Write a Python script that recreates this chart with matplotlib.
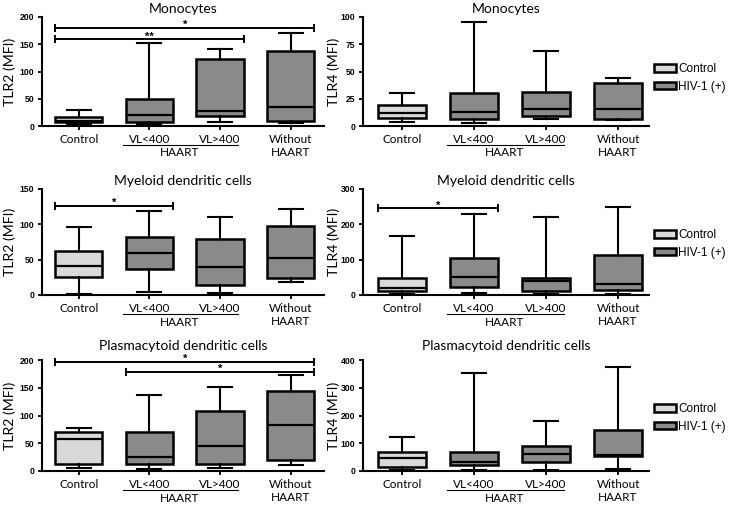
import matplotlib
matplotlib.use("Agg")
import matplotlib.pyplot as plt
import matplotlib.transforms as mtransforms
from matplotlib.patches import Patch

plt.rcParams['font.family'] = ['Lato', 'DejaVu Sans']

groups = ["Control", "VL<400", "VL>400", "Without\nHAART"]
colors = ["#d9d9d9", "#8a8a8a", "#8a8a8a", "#8a8a8a"]

# min, q1, median, q3, max for each group
mono_tlr2 = [[4, 7, 10, 16, 29], [4, 8, 20, 50, 152], [7, 18, 28, 123, 141], [6, 9, 34, 137, 170]]
mono_tlr4 = [[3.7, 7, 11.5, 19, 30], [3, 6.5, 13, 30, 95], [6.7, 9, 16, 31, 68.5], [5.2, 6.7, 16, 39, 44]]
mdc_tlr2 = [[1.5, 26, 41, 62, 96], [4, 37, 59, 82, 119], [3, 14, 40, 79, 111], [19, 24, 52, 97, 121]]
mdc_tlr4 = [[3, 12, 19, 49, 166], [7, 23, 52, 106, 230], [4, 11, 39, 47, 222], [4, 13, 31, 114, 250]]
pdc_tlr2 = [[5, 12, 57, 71, 78], [3, 12, 25, 71, 137], [5, 12, 45, 109, 152], [10, 19, 82, 144, 173]]
pdc_tlr4 = [[4, 16, 48, 69, 123], [4, 23, 34, 69, 352], [4, 34, 60, 90, 180], [6, 54, 57, 149, 373]]

# significance bars: (from group, to group, height, label)
mono_tlr2_sig = [(0, 3, 180, "*"), (0, 2, 159, "**")]
mdc_tlr2_sig = [(0, 1, 126, "*")]
mdc_tlr4_sig = [(0, 1, 245, "*")]
pdc_tlr2_sig = [(0, 3, 197, "*"), (1, 3, 179, "*")]

panels = [
    # data, ymax, step, title, ylabel, sig, row, col
    (mono_tlr2, 200, 50, "Monocytes", "TLR2 (MFI)", mono_tlr2_sig, 0, 0),
    (mono_tlr4, 100, 25, "Monocytes", "TLR4 (MFI)", [], 0, 1),
    (mdc_tlr2, 150, 50, "Myeloid dendritic cells", "TLR2 (MFI)", mdc_tlr2_sig, 1, 0),
    (mdc_tlr4, 300, 100, "Myeloid dendritic cells", "TLR4 (MFI)", mdc_tlr4_sig, 1, 1),
    (pdc_tlr2, 200, 50, "Plasmacytoid dendritic cells", "TLR2 (MFI)", pdc_tlr2_sig, 2, 0),
    (pdc_tlr4, 400, 100, "Plasmacytoid dendritic cells", "TLR4 (MFI)", [], 2, 1),
]

W, H = 729, 505
fig = plt.figure(figsize=(W / 100, H / 100), dpi=100)

col_x = [(42, 282), (363, 286)]
row_y = [(17, 126), (189, 295), (360, 471)]
title_pad = [3, 3, 7]
xlims = [(-0.52, 3.47), (-0.54, 3.43)]
ylab_x = [-26 / 282, -23 / 286]
bw = 0.67

for data, ymax, step, title, ylabel, sig, r, c in panels:
    x0, w = col_x[c]
    top, bot = row_y[r]
    ax = fig.add_axes([x0 / W, 1 - bot / H, w / W, (bot - top) / H])
    stats = [dict(whislo=d[0], q1=d[1], med=d[2], q3=d[3], whishi=d[4], fliers=[]) for d in data]
    bp = ax.bxp(stats, positions=range(4), widths=bw, capwidths=0.34, patch_artist=True,
                showfliers=False,
                boxprops=dict(lw=1.8, edgecolor='k'),
                medianprops=dict(color='k', lw=1.6),
                whiskerprops=dict(color='k', lw=1.5),
                capprops=dict(color='k', lw=1.5))
    for patch, col in zip(bp['boxes'], colors):
        patch.set_facecolor(col)

    ax.set_xlim(*xlims[c])
    ax.set_ylim(0, ymax)
    ax.set_yticks(range(0, ymax + 1, step))
    ax.set_xticks(range(4))
    ax.set_xticklabels(groups, fontsize=8.5, linespacing=1.25)
    for lab in ax.get_yticklabels():
        lab.set_fontweight('bold')
        lab.set_family('Liberation Sans')
        lab.set_fontsize(6.2)
    for s in ['top', 'right']:
        ax.spines[s].set_visible(False)
    for s in ['left', 'bottom']:
        ax.spines[s].set_linewidth(1.5)
    ax.tick_params(axis='both', length=3, width=1.3, pad=2.5)
    ax.set_title(title, fontsize=10, pad=title_pad[r])
    ax.set_ylabel(ylabel, fontsize=10.2)
    ax.yaxis.set_label_coords(ylab_x[c], 0.5)

    # HAART group underline and label
    t_line = ax.get_xaxis_transform() + mtransforms.ScaledTranslation(0, -0.185, fig.dpi_scale_trans)
    ax.plot([0.62, 2.25], [0, 0], color='k', lw=0.8, transform=t_line, clip_on=False)
    t_txt = ax.get_xaxis_transform() + mtransforms.ScaledTranslation(0, -0.27, fig.dpi_scale_trans)
    ax.text(1.43, 0, "HAART", fontsize=8.5, ha='center', va='center', transform=t_txt)

    for i, j, y, lab in sig:
        xa, xb = i - bw / 2, j + bw / 2
        ax.plot([xa, xb], [y, y], color='k', lw=1.4, marker='|', markersize=6,
                markeredgewidth=1.4, clip_on=False)
        ax.annotate(lab, ((xa + xb) / 2, y), xytext=(0, -1.5), textcoords='offset points',
                    ha='center', va='bottom', fontsize=8, fontweight='bold',
                    family='Liberation Sans')

legend_y = [78, 244, 418]
handles = [Patch(facecolor=colors[0], edgecolor='k', lw=1.8),
           Patch(facecolor=colors[1], edgecolor='k', lw=1.8)]
for ly in legend_y:
    fig.legend(handles, ["Control", "HIV-1 (+)"], loc='center left',
               bbox_to_anchor=(654 / W, 1 - ly / H), frameon=False, borderpad=0,
               borderaxespad=0, handlelength=1.85, handleheight=0.6, handletextpad=0.2,
               labelspacing=0.45, prop={'family': 'Liberation Sans', 'size': 8.5})

fig.savefig("out.png", dpi=100)
